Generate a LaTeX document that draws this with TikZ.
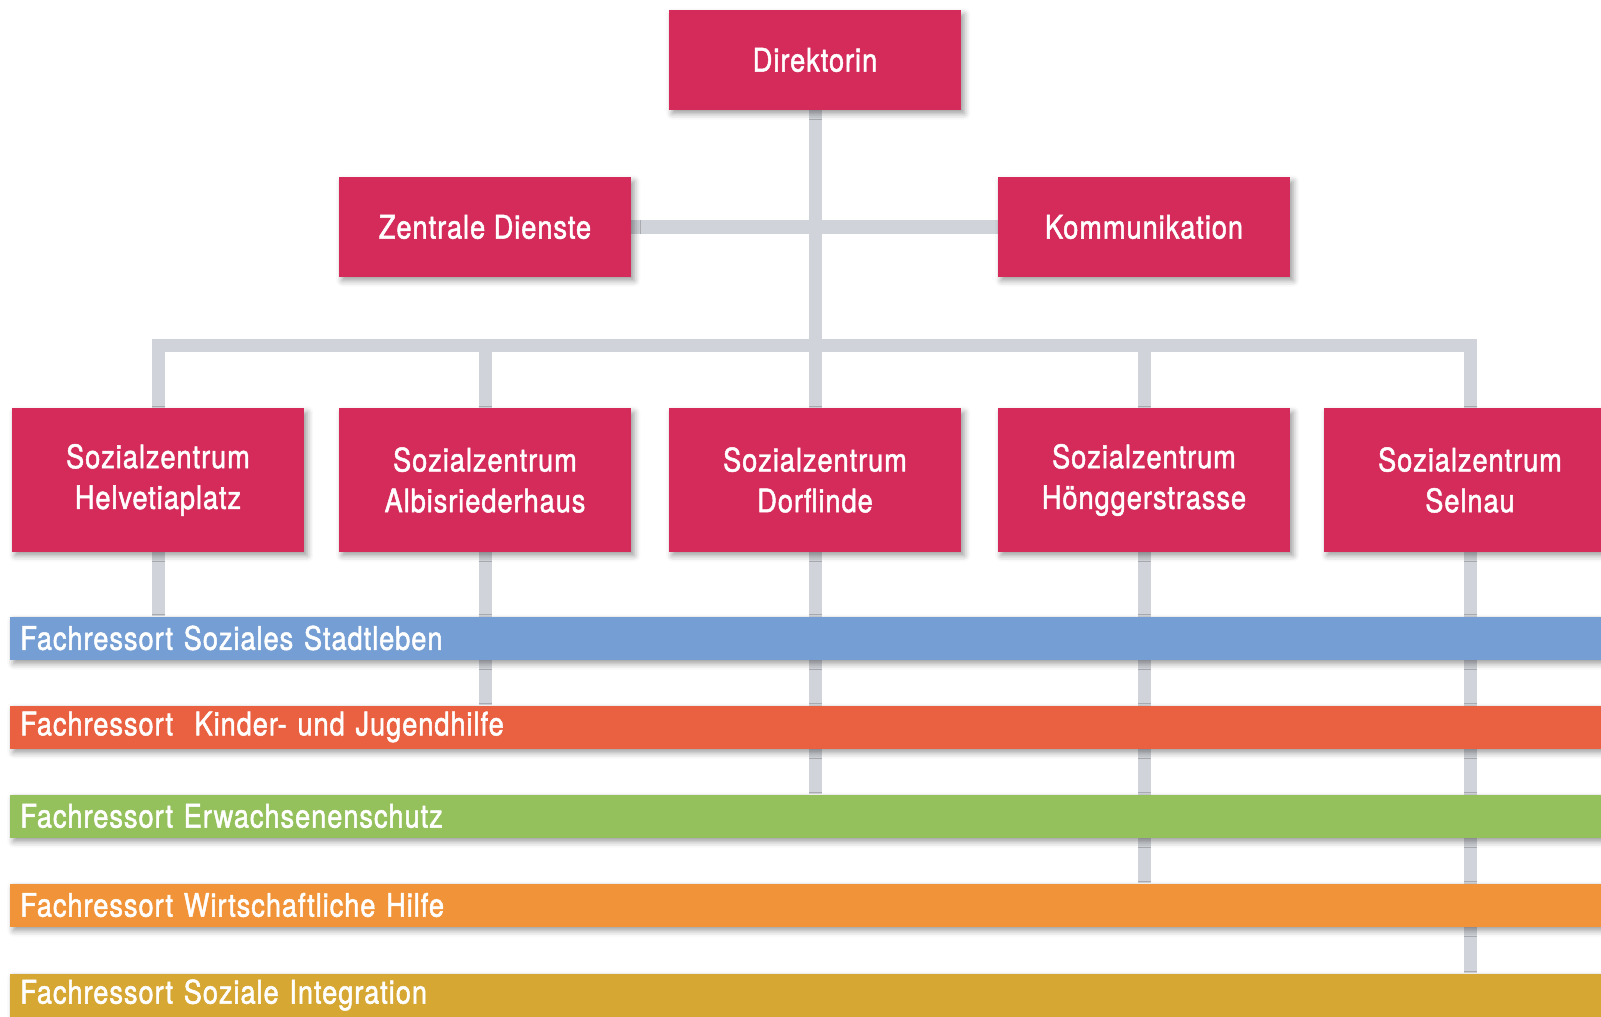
\documentclass[tikz,border=0pt]{standalone}
\usepackage{fontspec}
\setmainfont[FakeStretch=0.84,FakeBold=1.5,LetterSpace=3]{TeX Gyre Heros}
\usetikzlibrary{shadows.blur,backgrounds}

\definecolor{boxred}{RGB}{212,43,91}
\definecolor{conngray}{RGB}{208,211,217}
\definecolor{bandblue}{RGB}{117,159,212}
\definecolor{bandred}{RGB}{233,97,64}
\definecolor{bandgreen}{RGB}{148,193,92}
\definecolor{bandorange}{RGB}{241,148,57}
\definecolor{bandgold}{RGB}{214,167,51}

\tikzset{
	softshadow/.style={blur shadow={shadow xshift=0.08cm,shadow yshift=-0.1cm,shadow blur radius=0.15cm,shadow opacity=40}},
	orgbox/.style={fill=boxred,text=white,minimum width=7.3cm,minimum height=2.475cm,inner sep=0pt,align=center,font=\fontsize{23}{29}\selectfont,softshadow},
	szbox/.style={orgbox,minimum height=3.575cm},
	fachband/.style={fill=#1,text=white,anchor=west,minimum height=1.075cm,text width=39.5cm,inner xsep=0.25cm,inner ysep=0pt,align=left,font=\fontsize{23}{29}\selectfont,softshadow},
	conn/.style={draw=conngray,line width=0.325cm}
}

\begin{document}
\begin{tikzpicture}[x=0.025cm,y=-0.025cm]
		\useasboundingbox (0,0) rectangle (1601,1017);
		\coordinate (bus) at (815,345);

		\node[orgbox] (dir) at (815,60) {Direktorin};
		\node[orgbox] (zd) at (485,227) {Zentrale Dienste};
		\node[orgbox] (kom) at (1144,227) {Kommunikation};

		\node[szbox] (sz1) at (158,480) {Sozialzentrum\\Helvetiaplatz};
		\node[szbox] (sz2) at (485,480) {Sozialzentrum\\Albisriederhaus};
		\node[szbox] (sz3) at (815,480) {Sozialzentrum\\Dorflinde};
		\node[szbox] (sz4) at (1144,480) {Sozialzentrum\\Hönggerstrasse};
		\node[szbox] (sz5) at (1470,480) {Sozialzentrum\\Selnau};

		\node[fachband=bandblue] (fr1) at (10,638) {Fachressort Soziales Stadtleben};
		\node[fachband=bandred] (fr2) at (10,727) {Fachressort~~Kinder- und Jugendhilfe};
		\node[fachband=bandgreen] (fr3) at (10,816) {Fachressort Erwachsenenschutz};
		\node[fachband=bandorange] (fr4) at (10,905) {Fachressort Wirtschaftliche Hilfe};
		\node[fachband=bandgold] (fr5) at (10,995) {Fachressort Soziale Integration};

		\begin{scope}[on background layer]
			\draw[conn] (dir) -- (sz3);
			\draw[conn] (zd) -- (kom);
			\draw[conn] (sz1.north) -- (sz1.north |- bus) -- (sz5.north |- bus) -- (sz5.north);
			\foreach \i in {2,4}
				\draw[conn] (sz\i.north) -- (sz\i.north |- bus);
			\foreach \i in {1,...,5}
				\draw[conn] (sz\i.south) -- (sz\i.south |- fr\i.north);
		\end{scope}
	\end{tikzpicture}
\end{document}
